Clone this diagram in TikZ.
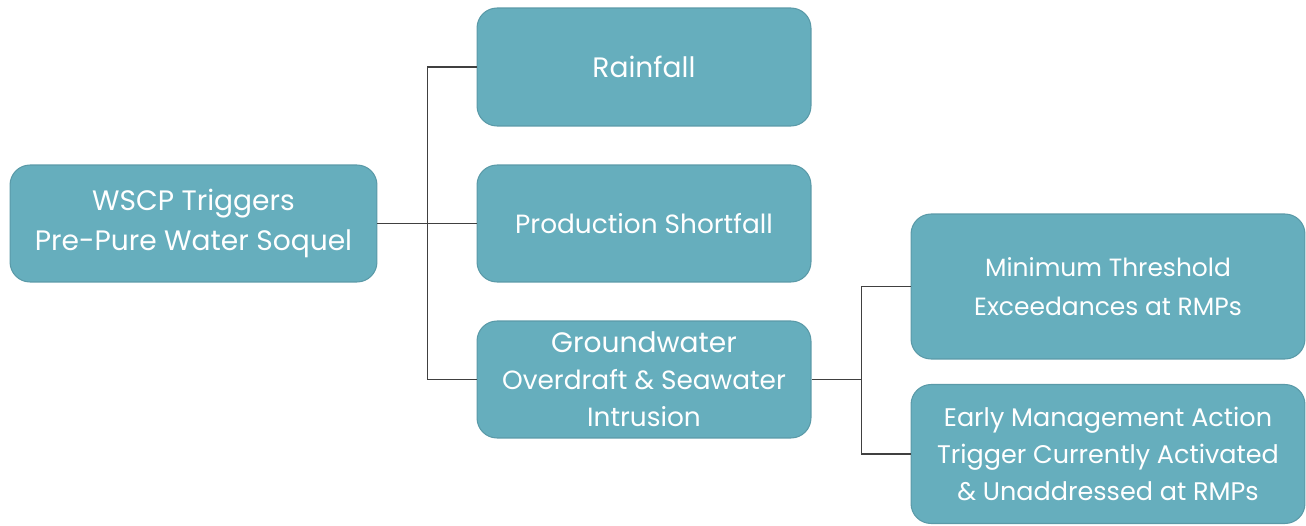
\documentclass[tikz,border=0pt]{standalone}
\usepackage{fontspec}
\setmainfont{Poppins}
\usepackage{xcolor}
\usepackage{tikz}
\usetikzlibrary{positioning,calc}
\definecolor{tealbox}{HTML}{66AEBD}
\definecolor{tealline}{HTML}{5A9AA8}

\begin{document}
\begin{tikzpicture}[
	x=0.02cm, y=-0.02cm,
	box/.style={rectangle, rounded corners=0.4cm, fill=tealbox, draw=tealline, line width=0.6pt,
		text=white, align=center, font=\fontsize{15}{21}\selectfont, inner sep=2pt},
	link/.style={draw=black!75, line width=0.8pt}]
	\useasboundingbox (0,0) rectangle (1306,525);
	% left column
	\node[box, minimum width=7.34cm, minimum height=2.34cm, font=\fontsize{16}{23}\selectfont] (trig) at (193.5,223.5) {WSCP Triggers\\Pre-Pure Water Soquel};
	% middle column
	\node[box, minimum width=6.68cm, minimum height=2.36cm, font=\fontsize{16}{21}\selectfont] (rain) at (644,67) {Rainfall};
	\node[box, minimum width=6.68cm, minimum height=2.34cm] (prod) at (644,223.5) {Production Shortfall};
	\node[box, minimum width=6.68cm, minimum height=2.34cm] (grnd) at (644,379.5) {{\fontsize{16}{21}\selectfont Groundwater}\\Overdraft \& Seawater\\Intrusion};
	% right column
	\node[box, minimum width=7.88cm, minimum height=2.9cm, font=\fontsize{14.2}{22.5}\selectfont] (mint) at (1108,286.5) {Minimum Threshold\\Exceedances at RMPs};
	\node[box, minimum width=7.88cm, minimum height=2.78cm, font=\fontsize{14.5}{21}\selectfont] (emat) at (1108,454) {Early Management Action\\Trigger Currently Activated\\\& Unaddressed at RMPs};
	% connectors
	\draw[link] (trig.east) -- ++(50,0) coordinate (j1);
	\draw[link] (j1) |- (rain.west);
	\draw[link] (j1) -- (prod.west);
	\draw[link] (j1) |- (grnd.west);
	\draw[link] (grnd.east) -- ++(50,0) coordinate (j2);
	\draw[link] (j2) |- (mint.west);
	\draw[link] (j2) |- (emat.west);
\end{tikzpicture}
\end{document}
